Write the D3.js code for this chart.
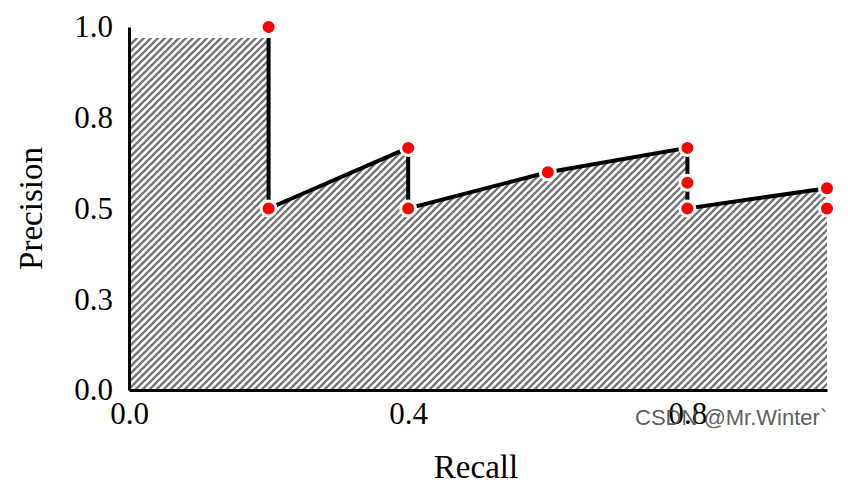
<!DOCTYPE html>
<html>
<head>
<meta charset="utf-8">
<script src="https://cdn.jsdelivr.net/npm/d3@7"></script>
<style>
  html, body { margin: 0; padding: 0; background: #fff; }
  svg { display: block; }
</style>
</head>
<body>
<svg id="chart" width="848" height="497"></svg>
<script>
// ---- data ----
const lineRecall    = [0.2, 0.2, 0.4, 0.4, 0.6, 0.8, 0.8, 1.0];
const linePrecision = [0.97, 0.5, 0.667, 0.5, 0.6, 0.667, 0.5, 0.556];

const areaRecall    = [0.0, 0.2, 0.2, 0.4, 0.4, 0.6, 0.8, 0.8, 1.0];
const areaPrecision = [0.97, 0.97, 0.5, 0.667, 0.5, 0.6, 0.667, 0.5, 0.556];

const pointRecall    = [0.2, 0.2, 0.4, 0.4, 0.6, 0.8, 0.8, 0.8, 1.0, 1.0];
const pointPrecision = [1.0, 0.5, 0.667, 0.5, 0.6, 0.667, 0.571, 0.5, 0.556, 0.5];

const xTicks = [0.0, 0.4, 0.8];
const xTickLabels = ["0.0", "0.4", "0.8"];
const yTicks = [0.0, 0.25, 0.5, 0.75, 1.0];
const yTickLabels = ["0.0", "0.3", "0.5", "0.8", "1.0"];

const xTitle = "Recall";
const yTitle = "Precision";
const watermark = "CSDN @Mr.Winter`";

// ---- drawing ----
const svg = d3.select("#chart");
const serif = "'Liberation Serif', 'Times New Roman', serif";

const x = d3.scaleLinear().domain([0, 1]).range([129, 827]);
const y = d3.scaleLinear().domain([0, 1]).range([390, 27]);

// hatch pattern
const P = 7;
const defs = svg.append("defs");
const pat = defs.append("pattern")
  .attr("id", "hatch")
  .attr("patternUnits", "userSpaceOnUse")
  .attr("width", P).attr("height", P);
pat.append("path")
  .attr("d", `M0,${P} L${P},0 M-2,2 L2,-2 M${P-2},${P+2} L${P+2},${P-2}`)
  .attr("stroke", "#737373")
  .attr("stroke-width", 2.3)
  .attr("fill", "none");

const areaData = areaRecall.map((r, i) => [r, areaPrecision[i]]);
const lineData = lineRecall.map((r, i) => [r, linePrecision[i]]);
const pointData = pointRecall.map((r, i) => [r, pointPrecision[i]]);

svg.append("path")
  .datum(areaData)
  .attr("fill", "url(#hatch)")
  .attr("d", d3.area().x(d => x(d[0])).y0(y(0)).y1(d => y(d[1])));

svg.append("path")
  .datum(lineData)
  .attr("fill", "none")
  .attr("stroke", "#000")
  .attr("stroke-width", 4)
  .attr("d", d3.line().x(d => x(d[0])).y(d => y(d[1])));

// axes
const yAxis = d3.axisLeft(y)
  .tickValues(yTicks)
  .tickFormat((d, i) => yTickLabels[i])
  .tickSize(0).tickSizeOuter(0).tickPadding(16);
const gy = svg.append("g").attr("transform", `translate(${x(0)},0)`).call(yAxis);

const xAxis = d3.axisBottom(x)
  .tickValues(xTicks)
  .tickFormat((d, i) => xTickLabels[i])
  .tickSize(0).tickSizeOuter(0).tickPadding(12);
const gx = svg.append("g").attr("transform", `translate(0,${y(0)})`).call(xAxis);

[gx, gy].forEach(g => {
  g.select(".domain").attr("stroke", "#000").attr("stroke-width", 3);
  g.selectAll("text")
    .attr("font-family", serif)
    .attr("font-size", 31)
    .attr("fill", "#000");
});

// points
svg.append("g").selectAll("circle")
  .data(pointData)
  .join("circle")
  .attr("cx", d => x(d[0]))
  .attr("cy", d => y(d[1]))
  .attr("r", 7.5)
  .attr("fill", "#ff0000")
  .attr("stroke", "#fff")
  .attr("stroke-width", 3);

// axis titles
svg.append("text")
  .attr("x", (x(0) + x(1)) / 2 - 2)
  .attr("y", 478)
  .attr("text-anchor", "middle")
  .attr("font-family", serif)
  .attr("font-size", 33)
  .text(xTitle);

svg.append("text")
  .attr("transform", `translate(42,${(y(0) + y(1)) / 2}) rotate(-90)`)
  .attr("text-anchor", "middle")
  .attr("font-family", serif)
  .attr("font-size", 33)
  .text(yTitle);

// watermark
svg.append("text")
  .attr("x", 635)
  .attr("y", 425)
  .attr("font-family", "'Liberation Sans', Arial, sans-serif")
  .attr("font-size", 22)
  .attr("fill", "#4a4a4a")
  .attr("fill-opacity", 0.9)
  .text(watermark);
</script>
</body>
</html>
